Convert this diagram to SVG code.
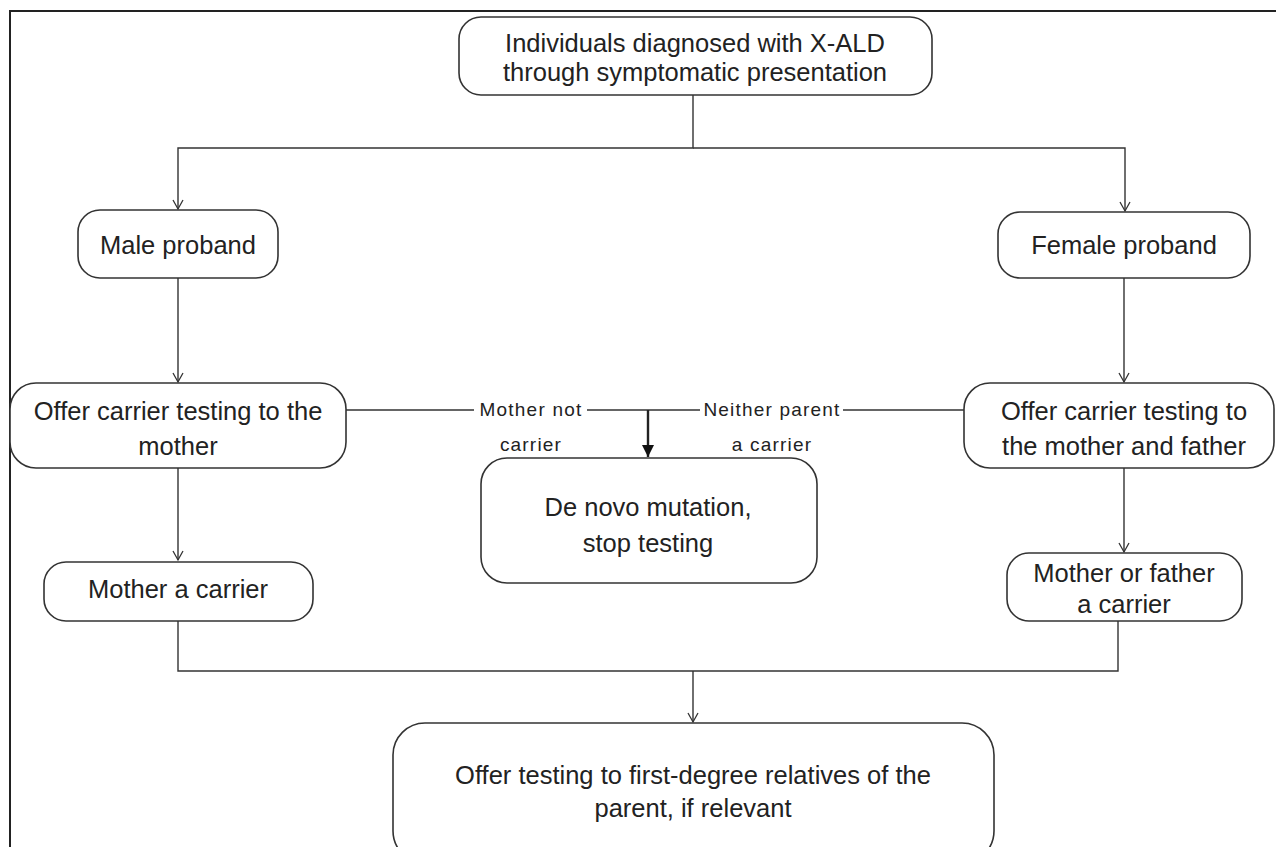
<svg xmlns="http://www.w3.org/2000/svg" width="1276" height="847" viewBox="0 0 1276 847">
<style>
.box{fill:#fff;stroke:#333;stroke-width:1.6}
.t{font-family:"Liberation Sans",Arial,sans-serif;font-size:25.5px;fill:#222;text-anchor:middle}
.l{font-family:"Liberation Sans",Arial,sans-serif;font-size:19px;letter-spacing:1.2px;fill:#222;text-anchor:middle}
.c{fill:none;stroke:#333;stroke-width:1.4}
.cb{fill:none;stroke:#222;stroke-width:2.4}
</style>
<defs>
<marker id="open" markerWidth="14" markerHeight="12" refX="10" refY="6" orient="auto" markerUnits="userSpaceOnUse">
<path d="M1,1 L10,6 L1,11" fill="none" stroke="#333" stroke-width="1.3"/>
</marker>
<marker id="fill" markerWidth="14" markerHeight="12" refX="12" refY="6" orient="auto" markerUnits="userSpaceOnUse">
<path d="M0,0 L12,6 L0,12 Z" fill="#111"/>
</marker>
</defs>
<rect width="1276" height="847" fill="#fff"/>
<path d="M10,847 V11 H1276" fill="none" stroke="#222" stroke-width="2"/>
<g id="connectors">
<path class="c" d="M693,95 V148 H178 V209" marker-end="url(#open)"/>
<path class="c" d="M693,148 H1125 V211" marker-end="url(#open)"/>
<path class="c" d="M178,278 V382" marker-end="url(#open)"/>
<path class="c" d="M1124,278 V382" marker-end="url(#open)"/>
<path class="c" d="M178,468 V560" marker-end="url(#open)"/>
<path class="c" d="M1124,468 V552" marker-end="url(#open)"/>
<path class="c" d="M346,410 H474 M587,410 H700 M843,410 H964"/>
<path class="cb" d="M648,410 V457" marker-end="url(#fill)"/>
<path class="c" d="M178,621 V671 H1118 V600"/>
<path class="c" d="M693,671 V722" marker-end="url(#open)"/>
<text class="l" x="531" y="416">Mother not</text>
<text class="l" x="531" y="451">carrier</text>
<text class="l" x="772" y="416">Neither parent</text>
<text class="l" x="772" y="451">a carrier</text>
</g>
<g id="n-top">
<rect class="box" x="459" y="17" width="473" height="78" rx="22"/>
<text class="t" x="695" y="52">Individuals diagnosed with X-ALD</text>
<text class="t" x="695" y="81">through symptomatic presentation</text>
</g>
<g id="n-male">
<rect class="box" x="78" y="210" width="200" height="68" rx="22"/>
<text class="t" x="178" y="254">Male proband</text>
</g>
<g id="n-female">
<rect class="box" x="998" y="212" width="252" height="66" rx="22"/>
<text class="t" x="1124" y="254">Female proband</text>
</g>
<g id="n-offer-mother">
<rect class="box" x="10" y="383" width="336" height="85" rx="26"/>
<text class="t" x="178" y="420">Offer carrier testing to the</text>
<text class="t" x="178" y="455">mother</text>
</g>
<g id="n-offer-both">
<rect class="box" x="964" y="383" width="310" height="85" rx="26"/>
<text class="t" x="1124" y="420">Offer carrier testing to</text>
<text class="t" x="1124" y="455">the mother and father</text>
</g>
<g id="n-denovo">
<rect class="box" x="481" y="458" width="336" height="125" rx="26"/>
<text class="t" x="648" y="516">De novo mutation,</text>
<text class="t" x="648" y="552">stop testing</text>
</g>
<g id="n-mother-carrier">
<rect class="box" x="44" y="562" width="269" height="59" rx="22"/>
<text class="t" x="178" y="598">Mother a carrier</text>
</g>
<g id="n-either-carrier">
<rect class="box" x="1007" y="553" width="235" height="68" rx="22"/>
<text class="t" x="1124" y="582">Mother or father</text>
<text class="t" x="1124" y="613">a carrier</text>
</g>
<g id="n-relatives">
<rect class="box" x="393" y="723" width="601" height="140" rx="32"/>
<text class="t" x="693" y="784">Offer testing to first-degree relatives of the</text>
<text class="t" x="693" y="817">parent, if relevant</text>
</g>
</svg>
